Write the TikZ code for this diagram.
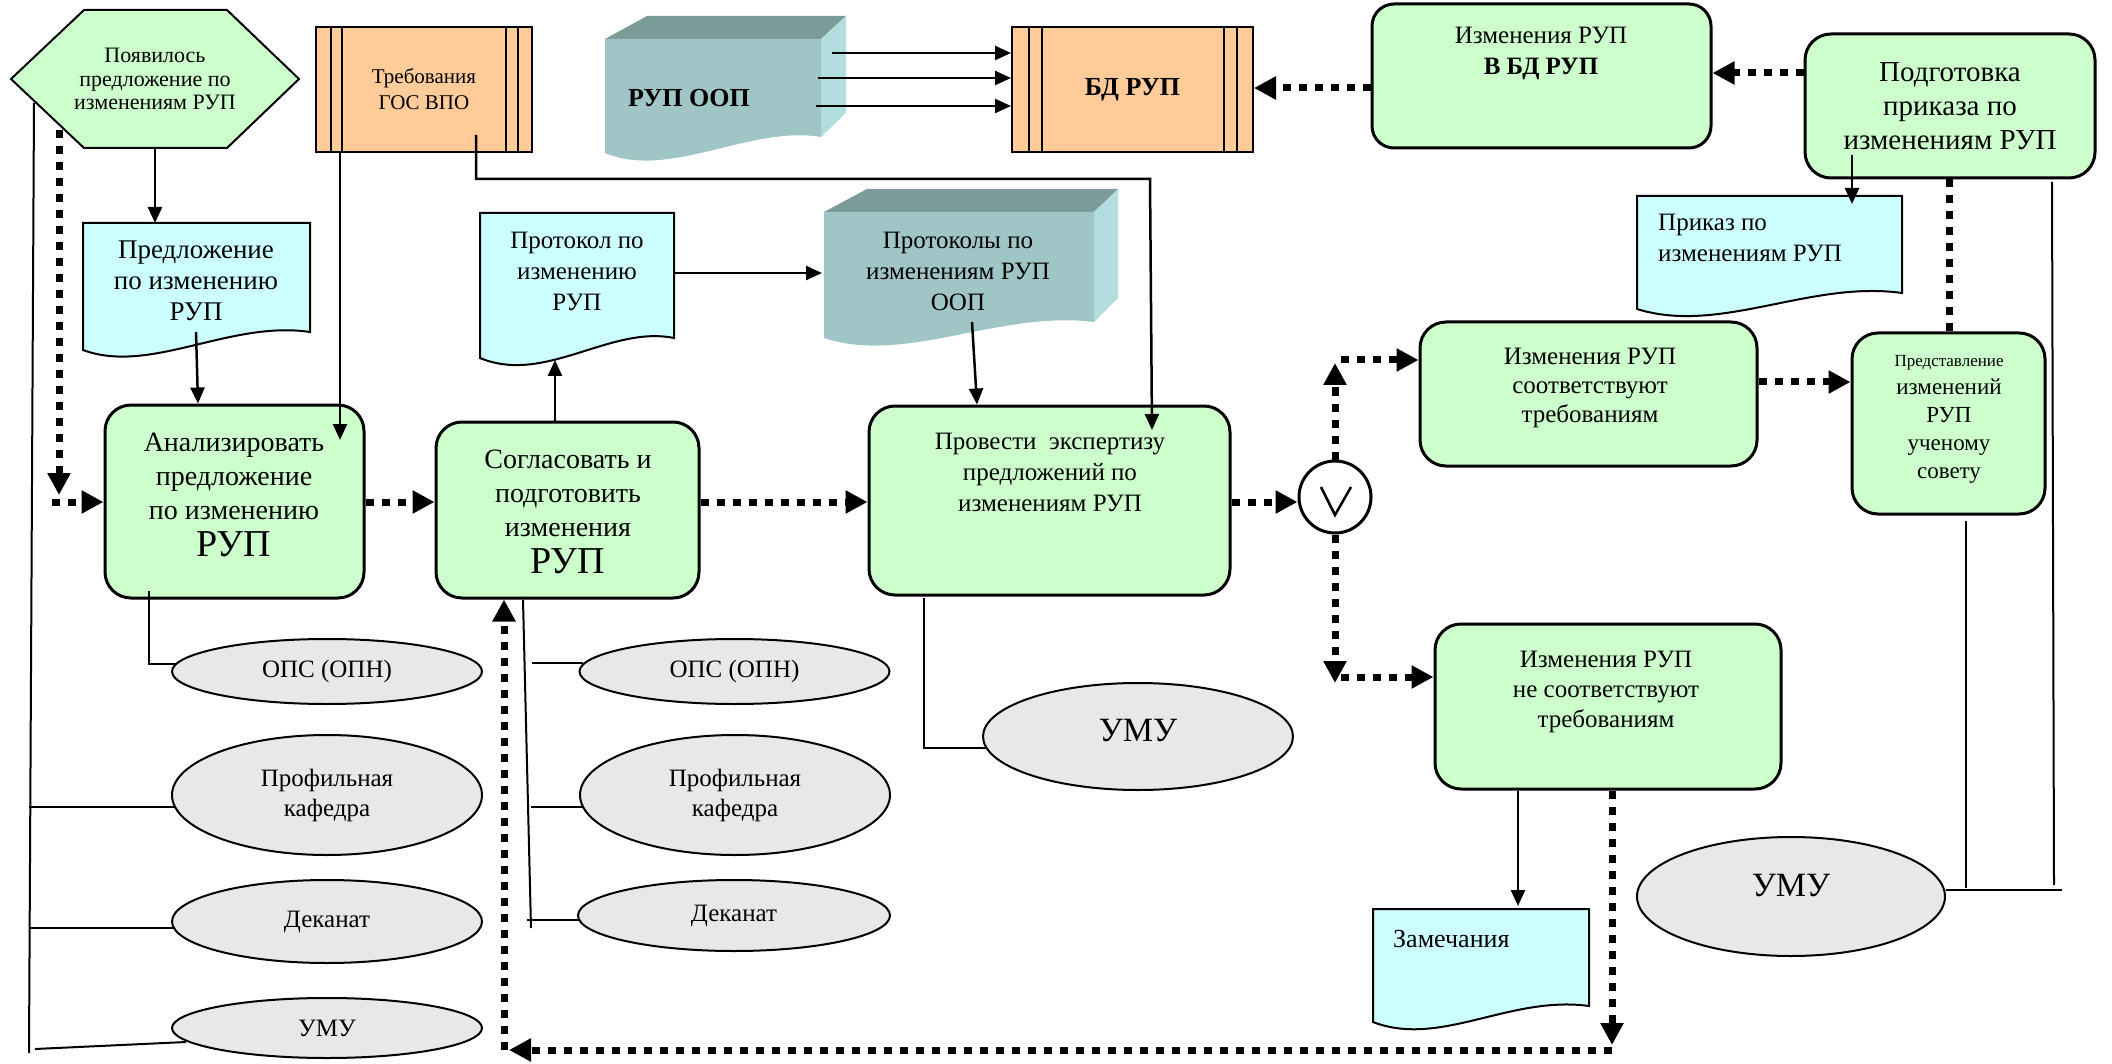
\documentclass[tikz,border=0pt]{standalone}
\usepackage{fontspec}
\setmainfont{Liberation Serif}
\usetikzlibrary{arrows.meta,shapes.geometric}
\definecolor{gfill}{HTML}{CCFFCC}
\definecolor{cfill}{HTML}{CCFFFF}
\definecolor{ofill}{HTML}{FFCC99}
\definecolor{efill}{HTML}{E8E8E8}
\definecolor{tfront}{HTML}{9FC5C6}
\definecolor{ttop}{HTML}{7B9B98}
\definecolor{tside}{HTML}{B3DEE0}
\newcommand{\myfs}[2]{\fontsize{#1}{#2}\selectfont}
\begin{document}
\begin{tikzpicture}[x=1pt,y=-1pt,
  gbox/.style={draw,line width=3pt,fill=gfill,rounded corners=26pt,inner sep=0pt,align=center},
  obox/.style={draw,line width=2pt,fill=ofill,inner sep=0pt,align=center},
  ell/.style={ellipse,draw,line width=2pt,fill=efill,inner sep=0pt,align=center,font=\myfs{25}{30}},
  txt/.style={align=center,inner sep=0pt},
  docsh/.style={draw,line width=2pt,fill=cfill},
  dotl/.style={line width=7pt,dash pattern=on 8pt off 8pt},
  dotarr/.style={dotl,-{Triangle[length=22pt,width=22pt]}},
  ln/.style={line width=2pt},
  arr/.style={line width=2.5pt,-{Triangle[length=16pt,width=14pt]}}]
\useasboundingbox (0,0) rectangle (2112,1064);
\fill[white] (0,0) rectangle (2112,1064);

% hexagon
\draw[line width=2pt,fill=gfill] (11,79)--(84,10)--(227,10)--(299,79)--(227,148)--(84,148)--cycle;
\node[txt,font=\myfs{22}{23.5}] (hex) at (155,79) {Появилось\\предложение по\\изменениям РУП};

% Требования ГОС ВПО
\node[obox,minimum width=216pt,minimum height=125pt,font=\myfs{21}{26}] (treb) at (424,89.5) {Требования\\ГОС ВПО};
\foreach \x in {331,342,506,518} \draw[ln] (\x,27)--(\x,152);

% БД РУП
\node[obox,minimum width=241pt,minimum height=125pt,font=\bfseries\myfs{26}{30}] (bd) at (1132.5,89.5) {БД РУП};
\foreach \x in {1029,1042,1224,1237} \draw[ln] (\x,27)--(\x,152);

% documents
\draw[docsh] (83,223)--(310,223)--(310,332) .. controls (230,320) and (150,375) .. (83,350)--cycle;
\node[txt,font=\myfs{27}{31}] (predl) at (196,281) {Предложение\\по изменению\\РУП};

\draw[docsh] (480,213)--(674,213)--(674,338) .. controls (610,325) and (545,385) .. (480,358)--cycle;
\node[txt,font=\myfs{25}{31}] (protokol) at (577,271) {Протокол по\\изменению\\РУП};

\draw[docsh] (1637,196)--(1902,196)--(1902,293) .. controls (1810,280) and (1720,335) .. (1637,309)--cycle;
\node[txt,align=left,anchor=west,font=\myfs{25}{31}] (prikaz) at (1658,238) {Приказ по\\изменениям РУП};

\draw[docsh] (1373,909)--(1589,909)--(1589,1006) .. controls (1510,995) and (1440,1048) .. (1373,1022)--cycle;
\node[txt,anchor=west,font=\myfs{26}{30}] (zamech) at (1393,939) {Замечания};

% 3D documents
\fill[ttop] (605,39)--(647,16)--(846,16)--(821,39)--cycle;
\fill[tside] (821,39)--(846,16)--(846,113)--(821,137)--cycle;
\fill[tfront] (605,39)--(821,39)--(821,137) .. controls (750,125) and (670,180) .. (605,153)--cycle;
\node[txt,font=\bfseries\myfs{26}{30}] (rupoop) at (689,98) {РУП ООП};

\fill[ttop] (824,212)--(867,189)--(1118,189)--(1094,212)--cycle;
\fill[tside] (1094,212)--(1118,189)--(1118,298)--(1094,322)--cycle;
\fill[tfront] (824,212)--(1094,212)--(1094,322) .. controls (1000,310) and (905,365) .. (824,338)--cycle;
\node[txt,font=\myfs{25}{31}] (protoop) at (958,271) {Протоколы по\\изменениям РУП\\ООП};

% green process boxes
\node[gbox,rounded corners=22pt,minimum width=339pt,minimum height=144pt] (izmbd) at (1541.5,76) {};
\node[txt,font=\myfs{25}{31}] (izmbdT) at (1541,53) {Изменения РУП\\\textbf{В БД РУП}};

\node[gbox,minimum width=290pt,minimum height=144pt,font=\myfs{29}{34}] (podg) at (1950,106) {Подготовка\\приказа по\\изменениям РУП};

\node[gbox,minimum width=259pt,minimum height=193pt] (analyze) at (234.5,501.5) {};
\node[txt,font=\myfs{28}{34}] (analyzeT) at (234,495) {Анализировать\\предложение\\по изменению\\[3pt]{\myfs{38}{40}РУП}};

\node[gbox,minimum width=263pt,minimum height=176pt] (soglas) at (567.5,510) {};
\node[txt,font=\myfs{28}{34}] (soglasT) at (568,512) {Согласовать и\\подготовить\\изменения\\[3pt]{\myfs{38}{40}РУП}};

\node[gbox,minimum width=361pt,minimum height=189pt] (provesti) at (1049.5,500.5) {};
\node[txt,font=\myfs{25}{31}] (provestiT) at (1050,472) {Провести\ \ экспертизу\\предложений по\\изменениям РУП};

\node[gbox,minimum width=337pt,minimum height=144pt] (sootv) at (1588.5,394) {};
\node[txt,font=\myfs{25}{29}] (sootvT) at (1590,388) {Изменения РУП\\соответствуют\\требованиям};

\node[gbox,minimum width=346pt,minimum height=165pt] (nesootv) at (1608,706.5) {};
\node[txt,font=\myfs{25}{30}] (nesootvT) at (1606,692) {Изменения РУП\\не соответствуют\\требованиям};

\node[gbox,minimum width=193pt,minimum height=181pt] (predst) at (1948.5,423.5) {};
\node[txt,font=\myfs{23}{28}] (predstT) at (1949,419) {{\myfs{17}{20}Представление}\\изменений\\РУП\\ученому\\совету};

% decision circle
\node[circle,draw,line width=3pt,fill=white,minimum size=72pt,inner sep=0pt] (orc) at (1335,497) {};
\draw[line width=2.5pt] (1321,487)--(1335,515)--(1351,487);

% ellipses
\node[ell,minimum width=310pt,minimum height=65pt] (ops1) at (327,671.5) {ОПС (ОПН)};
\node[ell,minimum width=310pt,minimum height=120pt] (prof1) at (327,795) {Профильная\\кафедра};
\node[ell,minimum width=310pt,minimum height=83pt] (dek1) at (327,921.5) {Деканат};
\node[ell,minimum width=310pt,minimum height=60pt] (umu1) at (327,1028) {УМУ};
\node[ell,minimum width=310pt,minimum height=65pt] (ops2) at (734.5,671.5) {ОПС (ОПН)};
\node[ell,minimum width=310pt,minimum height=120pt] (prof2) at (735,795) {Профильная\\кафедра};
\node[ell,minimum width=312pt,minimum height=71pt] (dek2) at (734,915.5) {Деканат};
\node[ell,minimum width=310pt,minimum height=107pt] (umuM) at (1138,736.5) {};
\node[txt,font=\myfs{34}{40}] (umuMT) at (1138,731) {УМУ};
\node[ell,minimum width=308pt,minimum height=119pt] (umuR) at (1791,896.5) {};
\node[txt,font=\myfs{34}{40}] (umuRT) at (1791,886) {УМУ};

% thin lines (participants)
\draw[ln] (34,103)--(29,1053);
\draw[ln] (29,807)--(175,807);
\draw[ln] (29,928)--(174,928);
\draw[ln] (35,1049)--(186,1042);
\draw[ln] (149,591)--(149,664)--(176,664);
\draw[ln] (523,600)--(531,928);
\draw[ln] (532,663)--(583,663);
\draw[ln] (531,807)--(583,807);
\draw[ln] (527,920)--(580,920);
\draw[ln] (924,598)--(924,748)--(987,748);
\draw[ln] (1966,521)--(1966,888);
\draw[ln] (2052,182)--(2054,885);
\draw[ln] (umuR.east |- 0,890)--(2062,890);

% solid arrows
\draw[arr] (155,148)--(155,223);
\draw[arr] (196,332)--(analyze.north -| 198,0);
\draw[arr] (treb.south -| 340,0)--(340,440);
\draw[arr] (476,135)--(476,179)--(1150,179)--(1152,430);
\draw[arr] (soglas.north -| 555,0)--(555,360);
\draw[arr] (674,273)--(822,273);
\draw[arr] (972,322)--(provesti.north -| 977,0);
\draw[arr] (832,53)--(bd.west |- 0,53);
\draw[arr] (818,78)--(bd.west |- 0,78);
\draw[arr] (816,106)--(bd.west |- 0,106);
\draw[arr] (1852,155)--(1852,204);
\draw[arr] (nesootv.south -| 1518,0)--(1518,906);

% dotted flow arrows
\draw[dotarr] (59,130)--(59,495);
\draw[dotarr] (52,502)--(analyze.west |- 0,502);
\draw[dotarr] (analyze.east |- 0,502)--(soglas.west |- 0,502);
\draw[dotarr] (soglas.east |- 0,502)--(provesti.west |- 0,502);
\draw[dotarr] (provesti.east |- 0,502)--(orc.west |- 0,502);
\draw[dotarr] (orc.north)--(1335,363);
\draw[dotarr] (1341,360)--(sootv.west |- 0,360);
\draw[dotarr] (orc.south)--(1335,683);
\draw[dotarr] (1341,677)--(nesootv.west |- 0,677);
\draw[dotarr] (sootv.east |- 0,382)--(predst.west |- 0,382);
\draw[dotl] (podg.south -| 1949,0)--(predst.north -| 1949,0);
\draw[dotarr] (podg.west |- 0,73)--(izmbd.east |- 0,73);
\draw[dotarr] (izmbd.west |- 0,88)--(bd.east |- 0,88);
\draw[dotarr] (nesootv.south -| 1612,0)--(1612,1045);
\draw[dotarr] (1612,1050)--(509,1050);
\draw[dotarr] (504,1050)--(soglas.south -| 504,0);
\end{tikzpicture}
\end{document}
